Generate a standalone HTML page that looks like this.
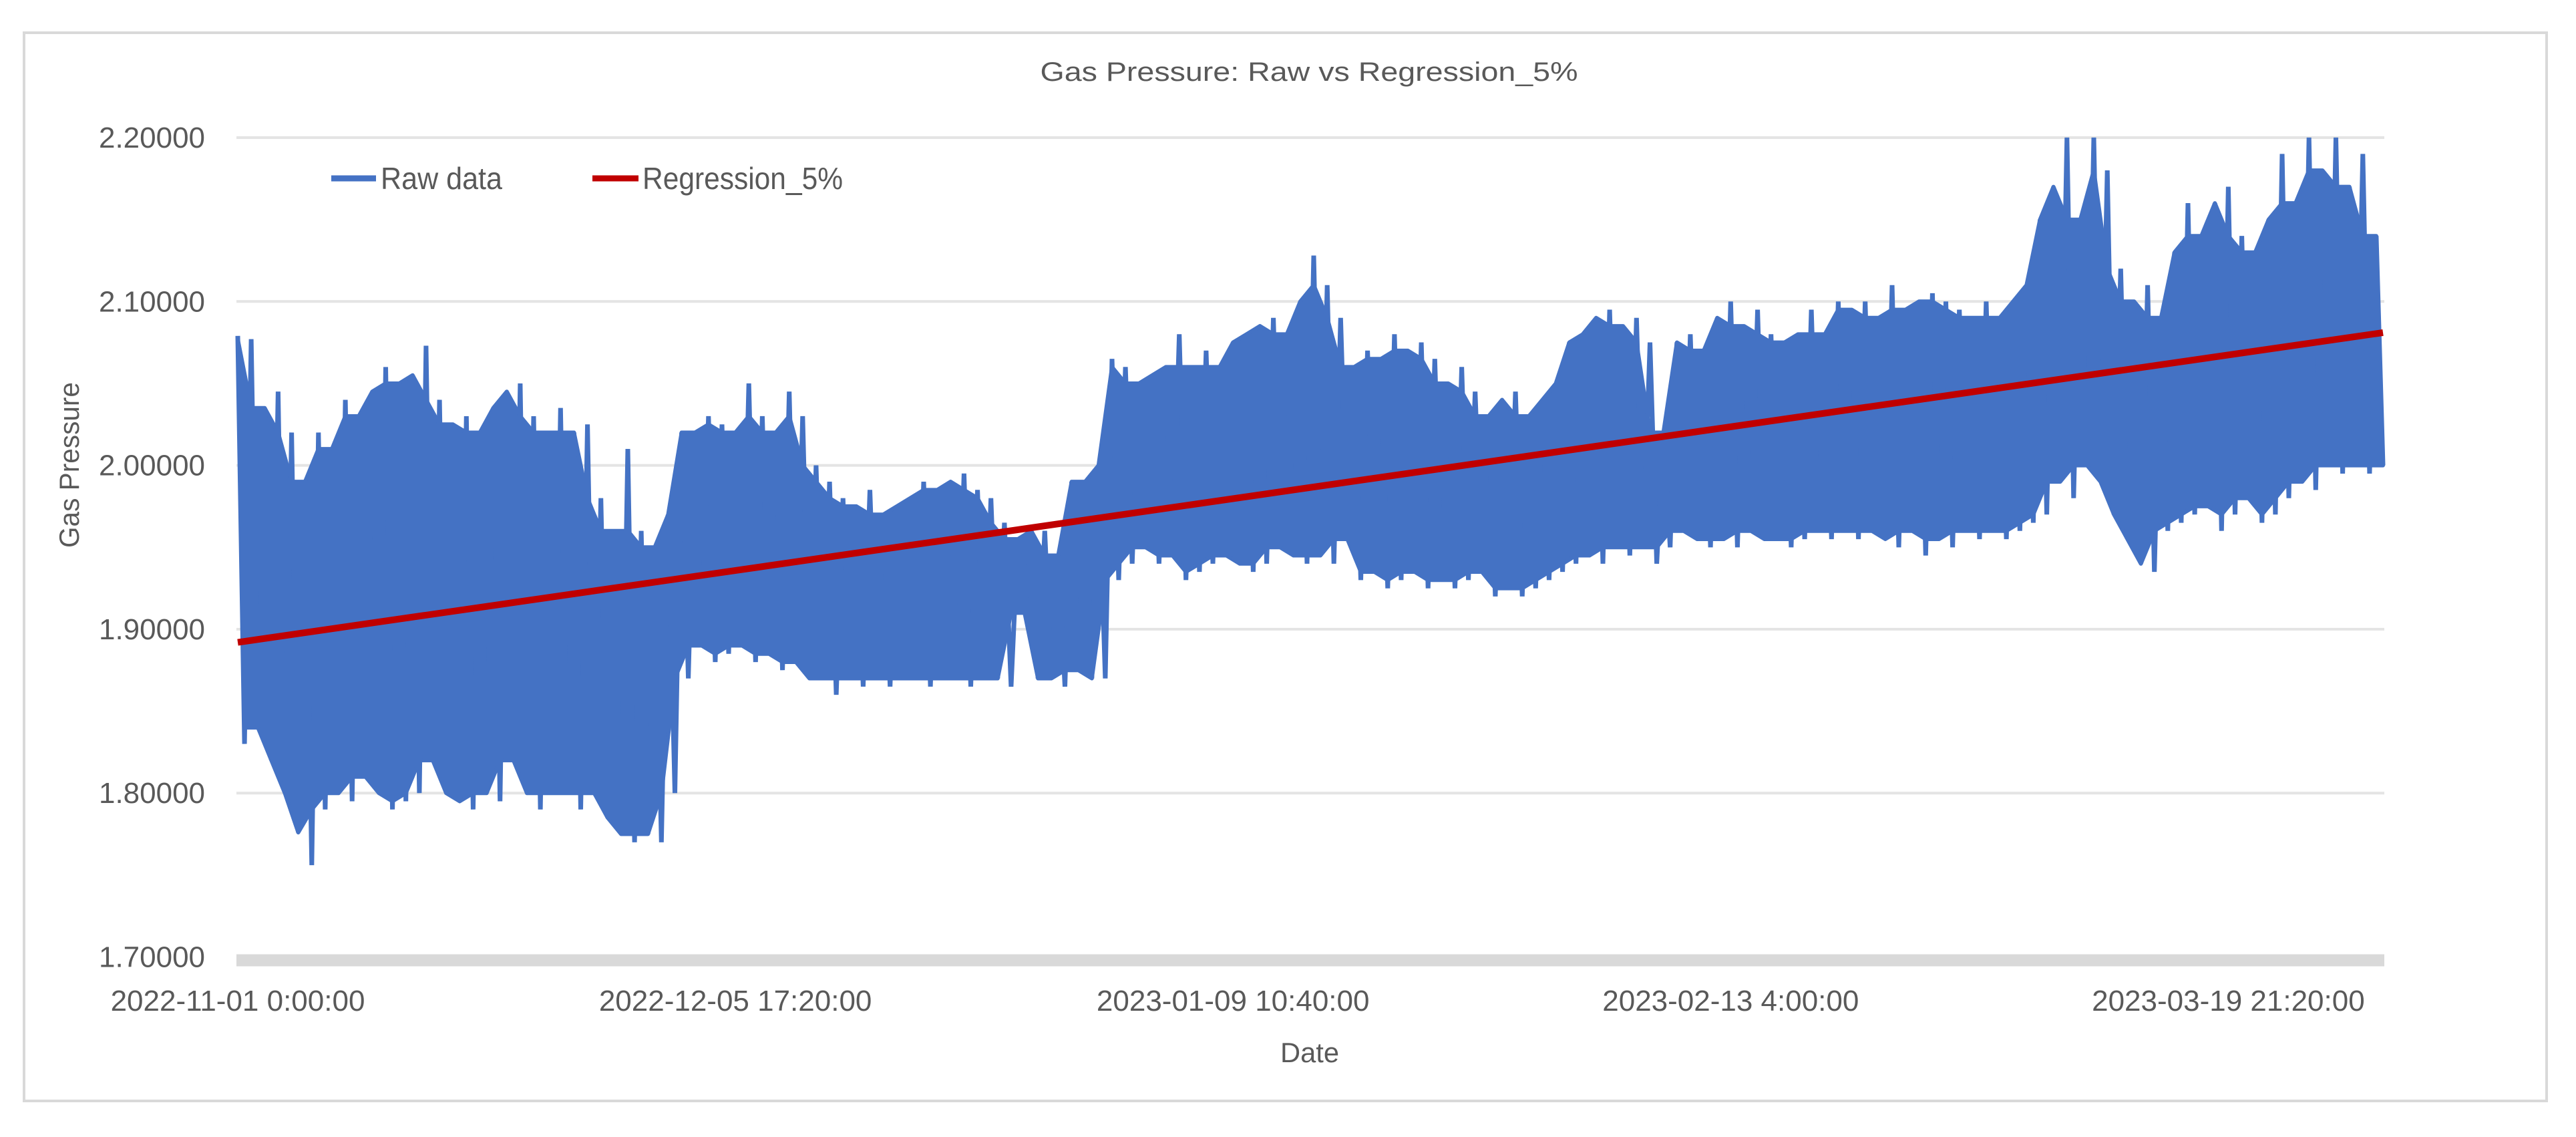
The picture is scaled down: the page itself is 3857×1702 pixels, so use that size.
<!DOCTYPE html>
<html><head><meta charset="utf-8"><style>
html,body{margin:0;padding:0;background:#fff;}
svg{display:block;font-family:"Liberation Sans",sans-serif;}
</style></head><body>
<svg id="chart" width="3857" height="1702" viewBox="0 0 3857 1702" xmlns="http://www.w3.org/2000/svg">
<defs><clipPath id="plotClip"><rect x="340" y="200" width="3240" height="1240"/></clipPath></defs>
<rect x="36" y="49" width="3777" height="1599" fill="#fff" stroke="#d9d9d9" stroke-width="4"/>
<text x="1960" y="121" text-anchor="middle" font-size="40" fill="#595959" textLength="805" lengthAdjust="spacingAndGlyphs">Gas Pressure: Raw vs Regression_5%</text>
<g id="grid"></g>
<g id="yticks"></g>
<g id="xticks"></g>
<g id="series" clip-path="url(#plotClip)"></g>
<text transform="translate(118,696) rotate(-90)" text-anchor="middle" font-size="42" fill="#595959" textLength="248" lengthAdjust="spacingAndGlyphs">Gas Pressure</text>
<text x="1961" y="1590" text-anchor="middle" font-size="42" fill="#595959" textLength="88" lengthAdjust="spacingAndGlyphs">Date</text>
<g>
<g>
<line x1="496" y1="267" x2="563" y2="267" stroke="#4472C4" stroke-width="9"/>
<text x="570" y="283" font-size="46" fill="#595959" textLength="182" lengthAdjust="spacingAndGlyphs">Raw data</text>
</g>
<g>
<line x1="887" y1="267" x2="956" y2="267" stroke="#C00000" stroke-width="9"/>
<text x="962" y="283" font-size="46" fill="#595959" textLength="300" lengthAdjust="spacingAndGlyphs">Regression_5%</text>
</g>
</g>
</svg>
<script>
const yTickValues = [2.2, 2.1, 2.0, 1.9, 1.8];
const yTickLabels = ["2.20000","2.10000","2.00000","1.90000","1.80000","1.70000"];
const xTickLabels = ["2022-11-01 0:00:00","2022-12-05 17:20:00","2023-01-09 10:40:00","2023-02-13 4:00:00","2023-03-19 21:20:00"];
const xTickIndex = [0, 74, 148, 222, 296];
const regressionStart = 1.892;
const regressionEnd = 2.081;
const rawValues = [
2.079,1.83,2.077,1.84,2.035,1.82,2.045,1.80,2.02,1.776,
1.99,1.756,2.02,1.79,2.01,1.80,2.04,1.795,2.03,1.81,
2.045,1.80,2.06,1.79,2.05,1.795,2.055,1.80,2.073,1.82,
2.04,1.80,2.025,1.795,2.03,1.79,2.02,1.80,2.035,1.795,
2.045,1.82,2.05,1.80,2.03,1.79,2.02,1.80,2.035,1.80,
2.02,1.79,2.025,1.80,1.98,1.785,1.96,1.775,2.01,1.77,
1.96,1.775,1.95,1.77,1.97,1.80,2.02,1.87,2.02,1.89,
2.03,1.88,2.025,1.885,2.02,1.89,2.05,1.88,2.03,1.885,
2.02,1.875,2.045,1.88,2.03,1.87,2.00,1.87,1.99,1.86,
1.98,1.87,1.975,1.865,1.985,1.87,1.97,1.865,1.975,1.87,
1.98,1.87,1.99,1.865,1.985,1.87,1.99,1.87,1.995,1.865,
1.985,1.87,1.98,1.87,1.965,1.865,1.955,1.91,1.96,1.87,
1.96,1.87,1.945,1.865,1.99,1.875,1.99,1.87,2.0,1.87,
2.065,1.93,2.06,1.94,2.05,1.95,2.055,1.94,2.06,1.945,
2.08,1.93,2.06,1.935,2.07,1.94,2.06,1.945,2.075,1.94,
2.08,1.935,2.085,1.94,2.09,1.95,2.08,1.945,2.10,1.94,
2.128,1.945,2.11,1.94,2.09,1.955,2.06,1.93,2.07,1.935,
2.065,1.925,2.08,1.93,2.07,1.935,2.075,1.925,2.065,1.93,
2.05,1.925,2.06,1.93,2.045,1.935,2.03,1.92,2.04,1.925,
2.045,1.92,2.03,1.925,2.04,1.93,2.05,1.935,2.075,1.94,
2.08,1.945,2.09,1.94,2.095,1.95,2.085,1.945,2.09,1.95,
2.075,1.94,2.02,1.95,2.075,1.96,2.08,1.955,2.07,1.95,
2.09,1.955,2.10,1.95,2.085,1.96,2.095,1.955,2.08,1.955,
2.075,1.95,2.08,1.955,2.095,1.96,2.08,1.955,2.10,1.96,
2.095,1.955,2.10,1.96,2.09,1.955,2.11,1.95,2.095,1.96,
2.10,1.945,2.105,1.955,2.10,1.95,2.095,1.96,2.09,1.955,
2.10,1.96,2.09,1.955,2.10,1.96,2.11,1.965,2.15,1.97,
2.17,1.99,2.2,1.98,2.15,2.0,2.2,1.99,2.18,1.97,
2.12,1.955,2.10,1.94,2.11,1.935,2.09,1.96,2.13,1.965,
2.16,1.97,2.14,1.975,2.16,1.96,2.17,1.97,2.14,1.98,
2.13,1.965,2.15,1.97,2.19,1.98,2.16,1.99,2.2,1.985,
2.18,2.0,2.2,1.995,2.17,2.0,2.19,1.995,2.14,2.0
];

const NS = "http://www.w3.org/2000/svg";
const X0 = 356, X1 = 3568, YTOP = 206, PXPER = 2453, VTOP = 2.2;
function xPos(i){ return X0 + (X1 - X0) * i / (rawValues.length - 1); }
function yPos(v){ return YTOP + (VTOP - v) * PXPER; }
function mk(tag, attrs){ const e = document.createElementNS(NS, tag); for (const k in attrs) e.setAttribute(k, attrs[k]); return e; }

const grid = document.getElementById('grid');
const yt = document.getElementById('yticks');
yTickValues.forEach(function(v){
  const l = mk('line', {x1:354, x2:3570, y1:yPos(v), y2:yPos(v), stroke:'#e4e4e4', 'stroke-width':4});
  
  
  grid.appendChild(l);
});
const band = mk('rect', {x:354, y:yPos(1.7)-4, width:3216, height:18, fill:'#d9d9d9'});


grid.appendChild(band);
const yLabelVals = yTickValues.concat([1.7]);
yLabelVals.forEach(function(v, i){
  const t = mk('text', {x:307, y:yPos(v)+15, 'text-anchor':'end', 'font-size':44, fill:'#595959', textLength:159, lengthAdjust:'spacingAndGlyphs'});
  t.textContent = yTickLabels[i];
  
  
  yt.appendChild(t);
});
const xt = document.getElementById('xticks');
xTickLabels.forEach(function(s, i){
  const t = mk('text', {x:xPos(xTickIndex[i]), y:1513, 'text-anchor':'middle', 'font-size':44, fill:'#595959'});
  t.textContent = s;
  
  
  xt.appendChild(t);
});

const series = document.getElementById('series');
const nPts = rawValues.length;
const bandTop = [], bandBot = [];
for (let i = 0; i < nPts; i++) {
  const v = rawValues[i];
  const j = (i + 2 < nPts) ? i + 2 : i;
  const nv = rawValues[j];
  if (i % 2 === 0) bandTop.push([xPos(i), yPos(Math.min(v, nv))]);
  else bandBot.push([xPos(i), yPos(Math.max(v, nv))]);
}
let pd = 'M' + bandTop.map(function(p){ return p[0].toFixed(1) + ',' + p[1].toFixed(1); }).join('L');
pd += 'L' + bandBot.slice().reverse().map(function(p){ return p[0].toFixed(1) + ',' + p[1].toFixed(1); }).join('L') + 'Z';
const fillBand = mk('path', {d:pd, fill:'#4472C4', stroke:'#4472C4', 'stroke-width':6, 'stroke-linejoin':'round'});


series.appendChild(fillBand);

let d = '';
rawValues.forEach(function(v, i){ d += (i ? 'L' : 'M') + xPos(i).toFixed(1) + ',' + yPos(v).toFixed(1); });
const raw = mk('path', {d:d, fill:'none', stroke:'#4472C4', 'stroke-width':7, 'stroke-linejoin':'miter', 'stroke-miterlimit':2});


series.appendChild(raw);
const reg = mk('line', {x1:xPos(0), y1:yPos(regressionStart), x2:xPos(nPts-1), y2:yPos(regressionEnd), stroke:'#C00000', 'stroke-width':10});


series.appendChild(reg);
</script>
</body></html>
